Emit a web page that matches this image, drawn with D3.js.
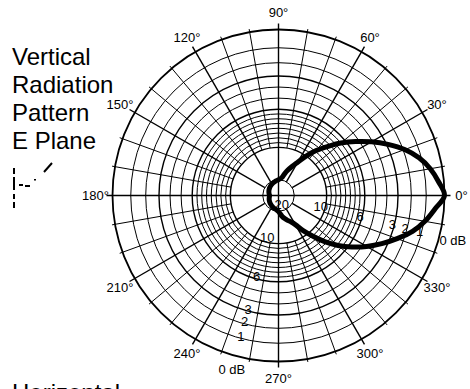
<!DOCTYPE html>
<html>
<head>
<meta charset="utf-8">
<script src="https://cdn.jsdelivr.net/npm/d3@7"></script>
<style>
  html, body { margin: 0; padding: 0; background: #fff; }
  svg { display: block; }
  text { font-family: "Liberation Sans", Arial, Helvetica, sans-serif; fill: #000; }
</style>
</head>
<body>
<svg id="chart" width="470" height="389"></svg>
<script>
// ---- data ----
const titleLines = ["Vertical", "Radiation", "Pattern", "E Plane"];
const bottomTitle = "Horizontal";

// non-uniform dB axis of the chart (dB -> fraction of outer radius)
const scaleDb   = [0, 1, 2, 3, 6, 10, 20, 40];
const scaleFrac = [1, 0.89, 0.80, 0.72, 0.52, 0.29, 0.095, 0];

const ringDb      = [0, 1, 2, 3, 4, 5, 6, 6.5, 7, 7.5, 8, 8.5, 9, 9.5, 10, 20];
const majorRingDb = [0, 3, 6, 10];

const dbLabelValues = [0, 1, 2, 3, 6, 10];
const dbLabelText   = ["0 dB", "1", "2", "3", "6", "10"];

const angleTicks  = [0, 30, 60, 90, 120, 150, 180, 210, 240, 270, 300, 330];
const minorAngles = d3.range(0, 360, 10);

// pattern (angle in degrees, counter-clockwise from 0°; level in dB below max)
const patAngle = [0, 5, 10, 15, 20, 25, 30, 35, 40, 45, 50, 55, 60, 65, 70, 75, 80, 90,
  100, 110, 120, 130, 140, 150, 160, 170, 180, 190, 200, 210, 220, 230, 240, 250, 260,
  270, 280, 285, 290, 295, 300, 305, 310, 315, 320, 325, 330, 335, 340, 345, 350, 355];
const patDb = [0, 0.3, 0.65, 1.15, 1.9, 2.9, 4.1, 5.3, 6.5, 7.8, 8.9, 10.0, 13.0, 15.0, 16.6, 18.1, 19.3, 20.0,
  21.1, 22.4, 23.4, 24.3, 25.2, 26.1, 27.0, 27.9, 28.6, 28.2, 27.4, 26.6, 25.8, 25.0, 24.0, 23.0, 22.0,
  19.9, 18.3, 17.5, 16.7, 15.9, 14.5, 11.6, 9.5, 8.2, 6.9, 5.7, 4.6, 3.5, 2.5, 1.6, 0.95, 0.5];

// ---- drawing ----
const svg = d3.select("#chart");
const cx = 278.5, cy = 195.5, R = 166;
const rScale = d3.scaleLinear().domain(scaleDb).range(scaleFrac.map(f => f * R));
const rad = a => a * Math.PI / 180;
const px = (a, r) => cx + r * Math.cos(rad(a));
const py = (a, r) => cy - r * Math.sin(rad(a));

const g = svg.append("g");

// rings
g.selectAll("circle.ring").data(ringDb).join("circle")
  .attr("cx", cx).attr("cy", cy)
  .attr("r", d => rScale(d))
  .attr("fill", "none").attr("stroke", "#000")
  .attr("stroke-width", d => d === 0 ? 1.8 : (majorRingDb.includes(d) ? 1.4 : 1));

// minor spokes (every 10°, from 10 dB ring outward)
g.selectAll("line.minor").data(minorAngles.filter(a => a % 30 !== 0)).join("line")
  .attr("x1", a => px(a, rScale(10))).attr("y1", a => py(a, rScale(10)))
  .attr("x2", a => px(a, R + 3)).attr("y2", a => py(a, R + 3))
  .attr("stroke", "#000").attr("stroke-width", 1);

// major spokes (every 30°)
g.selectAll("line.major").data(angleTicks).join("line")
  .attr("x1", a => px(a, a % 90 === 0 ? 0 : rScale(20)))
  .attr("y1", a => py(a, a % 90 === 0 ? 0 : rScale(20)))
  .attr("x2", a => px(a, R + 6)).attr("y2", a => py(a, R + 6))
  .attr("stroke", "#000").attr("stroke-width", 1.4);

// angle labels
g.selectAll("text.ang").data(angleTicks).join("text")
  .attr("x", a => px(a, 183)).attr("y", a => py(a, 183))
  .attr("text-anchor", "middle").attr("dominant-baseline", "central")
  .attr("font-size", 13)
  .text(a => a + "°");

// dB labels on two radial lines
const labelOffset = d => d === 0 ? 14 : (d === 10 ? -4.5 : -2);
[-14.5, 255].forEach(ang => {
  g.selectAll(null).data(dbLabelValues).join("text")
    .attr("x", d => px(ang, rScale(d) + labelOffset(d)))
    .attr("y", d => py(ang, rScale(d) + labelOffset(d)))
    .attr("text-anchor", "middle").attr("dominant-baseline", "central")
    .attr("font-size", 13)
    .text((d, i) => dbLabelText[i]);
});
g.append("text")
  .attr("x", px(-70, rScale(20) - 6)).attr("y", py(-70, rScale(20) - 6))
  .attr("text-anchor", "middle").attr("dominant-baseline", "central")
  .attr("font-size", 13).text("20");

// pattern
const pts = patAngle.map((a, i) => ({ a, db: patDb[i] }));
const line = d3.lineRadial()
  .angle(d => rad(90 - d.a))
  .radius(d => rScale(d.db))
  .curve(d3.curveCatmullRomClosed.alpha(0.5));
g.append("path")
  .attr("transform", `translate(${cx},${cy})`)
  .attr("d", line(pts))
  .attr("fill", "none").attr("stroke", "#000").attr("stroke-width", 5)
  .attr("stroke-linejoin", "round");

// titles
svg.selectAll("text.title").data(titleLines).join("text")
  .attr("x", 12).attr("y", (d, i) => 65 + i * 28)
  .attr("font-size", 24).text(d => d);
svg.append("text").attr("x", 12).attr("y", 401).attr("font-size", 24).text(bottomTitle);

// small scan specks beside the title
svg.append("path")
  .attr("d", "M14,168V174M14,177V190M14,194V199M14,202V208M19,185H23M25,186H30M35,179v1.5M44,172L52,163")
  .attr("stroke", "#000").attr("stroke-width", 2).attr("fill", "none");
</script>
</body>
</html>
